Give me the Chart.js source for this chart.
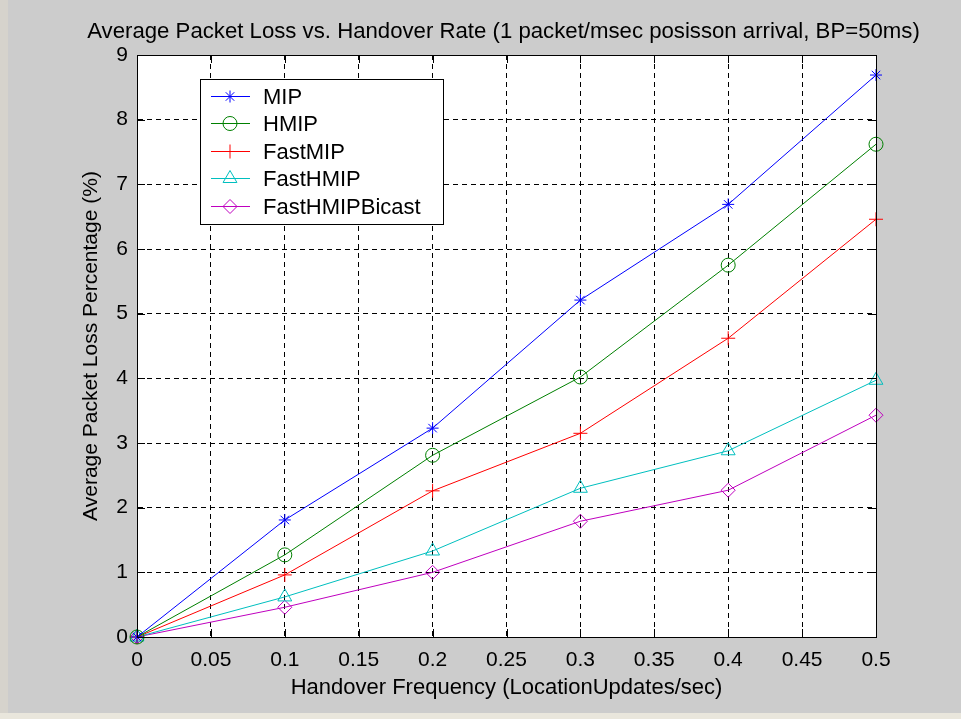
<!DOCTYPE html>
<html lang="en">
<head>
    <meta charset="utf-8">
    <title>Average Packet Loss vs. Handover Rate</title>
    <script src="https://cdn.jsdelivr.net/npm/chart.js@4.4.0/dist/chart.umd.min.js"></script>
    <style>
        body { margin: 0; background: #cccccc; }
        #wrap { position: absolute; left: 0; top: 0; width: 961px; height: 719px; }
    </style>
</head>
<body>
<div id="wrap">
    <canvas id="lossChart" width="961" height="719"></canvas>
</div>

<script>
    // handover frequency (LocationUpdates/sec)
    const freq = [0, 0.1, 0.2, 0.3, 0.4, 0.5];

    // average packet loss percentage per scheme
    const mip = [0, 1.81, 3.23, 5.21, 6.69, 8.69];
    const hmip = [0, 1.27, 2.81, 4.02, 5.75, 7.62];
    const fastMip = [0, 0.96, 2.26, 3.15, 4.62, 6.46];
    const fastHmip = [0, 0.62, 1.33, 2.30, 2.88, 3.97];
    const fastHmipBicast = [0, 0.46, 1.0, 1.79, 2.27, 3.43];

    const xTicks = [0, 0.05, 0.1, 0.15, 0.2, 0.25, 0.3, 0.35, 0.4, 0.45, 0.5];
    const yTicks = [0, 1, 2, 3, 4, 5, 6, 7, 8, 9];

    const chartTitle = 'Average Packet Loss vs. Handover Rate (1 packet/msec posisson arrival, BP=50ms)';

    const FONT = "'Liberation Sans', Arial, sans-serif";

    let toPoints = (ys) => ys.map((y, i) => ({x: freq[i], y: y}));

    let makeSet = (label, data, color, style, radius) => ({
        label: label,
        data: toPoints(data),
        borderColor: color,
        backgroundColor: color,
        borderWidth: 1,
        pointStyle: style,
        pointRadius: radius,
        pointHoverRadius: radius,
        pointBorderWidth: 1,
        pointBorderColor: color,
        pointBackgroundColor: 'rgba(0,0,0,0)',
        fill: false,
        tension: 0,
        clip: false
    });

    // grey figure background + title centred over the axes (MATLAB style)
    const figureBg = {
        id: 'figureBg',
        beforeDraw(chart) {
            const c = chart.ctx;
            const a = chart.chartArea;
            c.save();
            c.fillStyle = '#cccccc';
            c.fillRect(0, 0, chart.width, chart.height);
            c.fillStyle = '#d6d3cc';
            c.fillRect(0, 0, 8, chart.height);
            c.fillStyle = '#e9e6dc';
            c.fillRect(0, chart.height - 6, chart.width, 6);
            c.fillStyle = '#ffffff';
            c.fillRect(a.left, a.top, a.right - a.left, a.bottom - a.top);
            c.fillStyle = '#000';
            c.font = '22.2px ' + FONT;
            c.textAlign = 'center';
            c.textBaseline = 'middle';
            c.fillText(chartTitle, (a.left + a.right) / 2 - 3, 32);
            c.restore();
        }
    };

    // solid box with inward tick marks on all four sides
    const axesBox = {
        id: 'axesBox',
        afterDatasetsDraw(chart) {
            const c = chart.ctx;
            const a = chart.chartArea;
            const xs = chart.scales.x, ys = chart.scales.y;
            const len = 8;
            c.save();
            c.strokeStyle = '#000';
            c.lineWidth = 1;
            c.setLineDash([]);
            c.strokeRect(a.left + 0.5, a.top + 0.5, a.right - a.left, a.bottom - a.top);
            c.beginPath();
            xTicks.forEach(v => {
                const px = Math.round(xs.getPixelForValue(v)) + 0.5;
                c.moveTo(px, a.bottom); c.lineTo(px, a.bottom - len);
                c.moveTo(px, a.top); c.lineTo(px, a.top + len);
            });
            yTicks.forEach(v => {
                const py = Math.round(ys.getPixelForValue(v)) + 0.5;
                c.moveTo(a.left, py); c.lineTo(a.left + len, py);
                c.moveTo(a.right, py); c.lineTo(a.right - len, py);
            });
            c.stroke();
            c.restore();
        }
    };

    // MATLAB-like legend box inside the axes
    const boxLegend = {
        id: 'boxLegend',
        afterDraw(chart) {
            const c = chart.ctx;
            const a = chart.chartArea;
            const left = a.left + 63, top = a.top + 24;
            const w = 243, h = 145;
            c.save();
            c.fillStyle = '#fff';
            c.fillRect(left, top, w, h);
            c.strokeStyle = '#000';
            c.lineWidth = 1;
            c.strokeRect(left + 0.5, top + 0.5, w, h);
            c.font = '22px ' + FONT;
            c.textBaseline = 'middle';
            chart.data.datasets.forEach((ds, i) => {
                const y = Math.round(top + 17 + i * 27.4) + 0.5;
                c.strokeStyle = ds.borderColor;
                c.lineWidth = 1;
                c.beginPath();
                c.moveTo(left + 11, y);
                c.lineTo(left + 50, y);
                c.stroke();
                c.fillStyle = 'rgba(0,0,0,0)';
                Chart.helpers.drawPoint(c, {
                    pointStyle: ds.pointStyle,
                    radius: ds.pointRadius,
                    borderWidth: 1
                }, left + 30, y);
                c.fillStyle = '#000';
                c.fillText(ds.label, left + 63, y + 1);
            });
            c.restore();
        }
    };

    let showChart = () => {
        const ctx = document.getElementById('lossChart').getContext('2d');
        new Chart(ctx, {
            type: 'line',
            data: {
                datasets: [
                    makeSet('MIP', mip, '#0000ff', 'star', 6),
                    makeSet('HMIP', hmip, '#008000', 'circle', 7),
                    makeSet('FastMIP', fastMip, '#ff0000', 'cross', 7),
                    makeSet('FastHMIP', fastHmip, '#00bfbf', 'triangle', 8),
                    makeSet('FastHMIPBicast', fastHmipBicast, '#bf00bf', 'rectRot', 7)
                ]
            },
            options: {
                responsive: false,
                animation: false,
                devicePixelRatio: 1,
                layout: {padding: {left: 0, right: 85, top: 55, bottom: 0}},
                plugins: {
                    legend: {display: false},
                    tooltip: {enabled: false},
                    title: {display: false}
                },
                scales: {
                    x: {
                        type: 'linear',
                        min: 0,
                        max: 0.5,
                        afterBuildTicks: s => { s.ticks = xTicks.map(v => ({value: v})); },
                        afterFit: s => { s.height = 82; },
                        ticks: {
                            color: '#000',
                            padding: 11,
                            autoSkip: false,
                            maxRotation: 0,
                            font: {family: FONT, size: 21},
                            callback: v => String(Number(v.toFixed(2)))
                        },
                        grid: {color: '#000', lineWidth: 1, drawTicks: false},
                        border: {display: true, color: '#000', width: 1, dash: [5, 4]},
                        title: {
                            display: true,
                            text: 'Handover Frequency (LocationUpdates/sec)',
                            color: '#000',
                            font: {family: FONT, size: 22, lineHeight: 1.2},
                            padding: {top: 0, bottom: 18}
                        }
                    },
                    y: {
                        type: 'linear',
                        min: 0,
                        max: 9,
                        afterBuildTicks: s => { s.ticks = yTicks.map(v => ({value: v})); },
                        afterFit: s => { s.width = 137; },
                        ticks: {
                            color: '#000',
                            padding: 9,
                            autoSkip: false,
                            font: {family: FONT, size: 21}
                        },
                        grid: {color: '#000', lineWidth: 1, drawTicks: false},
                        border: {display: true, color: '#000', width: 1, dash: [5, 4]},
                        title: {
                            display: true,
                            text: 'Average Packet Loss Percentage (%)',
                            color: '#000',
                            font: {family: FONT, size: 21, lineHeight: 1.2},
                            padding: {top: 79, bottom: 0}
                        }
                    }
                }
            },
            plugins: [figureBg, axesBox, boxLegend]
        });
    }

    showChart();
</script>
</body>
</html>
